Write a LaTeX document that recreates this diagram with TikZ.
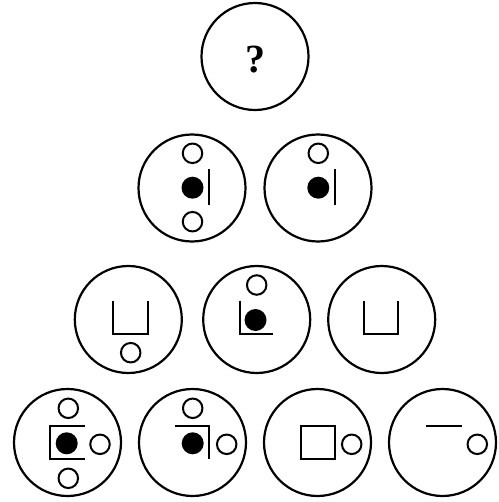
\documentclass[tikz,border=0pt]{standalone}
\usepackage{fontspec}
\setmainfont{Liberation Serif}
\begin{document}
\begin{tikzpicture}[x=1pt,y=-1pt,
  big/.style={circle,draw,line width=2.2pt,minimum size=107pt,inner sep=0pt},
  dot/.style={circle,draw,line width=2pt,minimum size=19.5pt,inner sep=0pt},
  fdot/.style={circle,fill=black,minimum size=22pt,inner sep=0pt},
  seg/.style={line width=2.2pt}]
\useasboundingbox (0,0) rectangle (498,502);
% top
\node[big] (t) at (255,56.5) {};
\node[font=\bfseries\fontsize{40}{42}\selectfont] (q) at (255.3,59.5) {?};
% row 2
\node[big] (a1) at (192,188) {};
\node[dot] (a1u) at (192.5,153.3) {};
\node[fdot] (a1f) at (192.5,187.7) {};
\node[dot] (a1d) at (192.5,221.7) {};
\coordinate (a1b1) at (209.3,169);
\coordinate (a1b2) at (209.3,205);
\draw[seg] (a1b1) -- (a1b2);
\node[big] (a2) at (318,188) {};
\node[dot] (a2u) at (318.3,153.3) {};
\node[fdot] (a2f) at (318.3,187.7) {};
\coordinate (a2b1) at (334.7,169);
\coordinate (a2b2) at (334.7,205);
\draw[seg] (a2b1) -- (a2b2);
% row 3
\node[big] (b1) at (128.3,319.5) {};
\draw[seg] (112.7,300.7) -- (112.7,334) -- (147.7,334) -- (147.7,300.7);
\node[dot] (b1d) at (130.7,352.7) {};
\node[big] (b2) at (256.7,319.5) {};
\node[dot] (b2u) at (256.7,285) {};
\node[fdot] (b2f) at (255.5,320) {};
\draw[seg] (240,300.7) -- (240,334) -- (272.7,334);
\node[big] (b3) at (381.7,319.5) {};
\draw[seg] (364,300.7) -- (364,334) -- (398.3,334) -- (398.3,300.7);
% row 4
\node[big] (c1) at (67.5,442.5) {};
\node[dot] (c1u) at (68.3,408.3) {};
\node[fdot] (c1f) at (66.7,443.3) {};
\node[dot] (c1r) at (100,444.3) {};
\node[dot] (c1d) at (68.3,478.3) {};
\draw[seg] (85,425.7) -- (50,425.7) -- (50,459) -- (85,459);
\node[big] (c2) at (192.5,442.5) {};
\node[dot] (c2u) at (192.7,408.3) {};
\node[fdot] (c2f) at (192.7,443.3) {};
\node[dot] (c2r) at (226.7,444.3) {};
\draw[seg] (175,425.7) -- (209.3,425.7) -- (209.3,459);
\node[big] (c3) at (317.5,442.5) {};
\draw[seg] (301,425.7) rectangle (335,459);
\node[dot] (c3r) at (351.7,444.3) {};
\node[big] (c4) at (442.5,442.5) {};
\draw[seg] (426,425.7) -- (461.7,425.7);
\node[dot] (c4r) at (477.3,444.3) {};
\end{tikzpicture}
\end{document}
